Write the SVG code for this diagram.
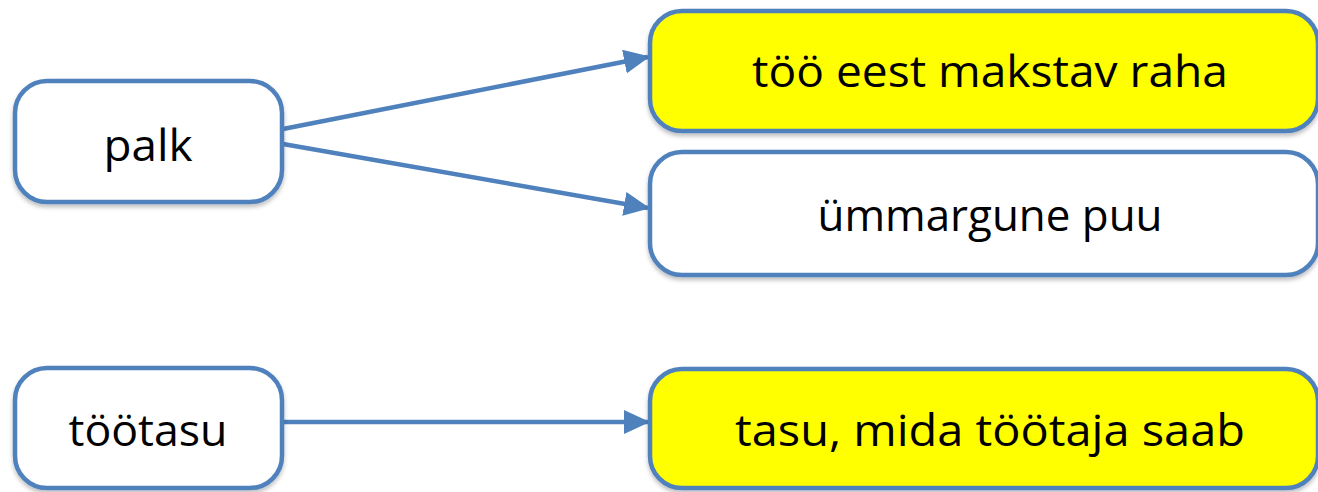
<svg xmlns="http://www.w3.org/2000/svg" width="1318" height="492" viewBox="0 0 1318 492">
<defs>
<style>
.box{stroke:#4F81BD;stroke-width:4.5;filter:url(#sh)}
.w{fill:#FFFFFF}
.y{fill:#FFFF00}
.t{font-family:"Open Sans","DejaVu Sans",sans-serif;font-size:44px;fill:#000;text-anchor:middle}
.c{stroke:#4F81BD;stroke-width:4.5;fill:none;marker-end:url(#ah)}
</style>
<filter id="sh" x="-5%" y="-10%" width="110%" height="130%">
<feDropShadow dx="0" dy="3" stdDeviation="2" flood-color="#000" flood-opacity="0.25"/>
</filter>
<marker id="ah" markerUnits="userSpaceOnUse" markerWidth="26" markerHeight="24" refX="24" refY="12" orient="auto">
<path d="M0,0 L26,12 L0,24 Z" fill="#4F81BD"/>
</marker>
</defs>
<g id="connectors">
<line class="c" x1="283" y1="129" x2="648" y2="57"/>
<line class="c" x1="283" y1="144" x2="648" y2="208"/>
<line class="c" x1="283" y1="422" x2="648" y2="422"/>
</g>
<g id="node-palk">
<rect class="box w" x="15" y="81" width="267" height="121" rx="32"/>
<text class="t" x="148" y="161" textLength="89" lengthAdjust="spacingAndGlyphs">palk</text>
</g>
<g id="node-too-eest">
<rect class="box y" x="650" y="11" width="668" height="120" rx="32"/>
<text class="t" x="990" y="87" textLength="476" lengthAdjust="spacingAndGlyphs">töö eest makstav raha</text>
</g>
<g id="node-ummargune">
<rect class="box w" x="650" y="152" width="668" height="123" rx="32"/>
<text class="t" x="990" y="231" textLength="345" lengthAdjust="spacingAndGlyphs">ümmargune puu</text>
</g>
<g id="node-tootasu">
<rect class="box w" x="15" y="368" width="267" height="120" rx="32"/>
<text class="t" x="148" y="446" textLength="159" lengthAdjust="spacingAndGlyphs">töötasu</text>
</g>
<g id="node-tasu">
<rect class="box y" x="650" y="369" width="668" height="119" rx="32"/>
<text class="t" x="990" y="446" textLength="510" lengthAdjust="spacingAndGlyphs">tasu, mida töötaja saab</text>
</g>
</svg>
